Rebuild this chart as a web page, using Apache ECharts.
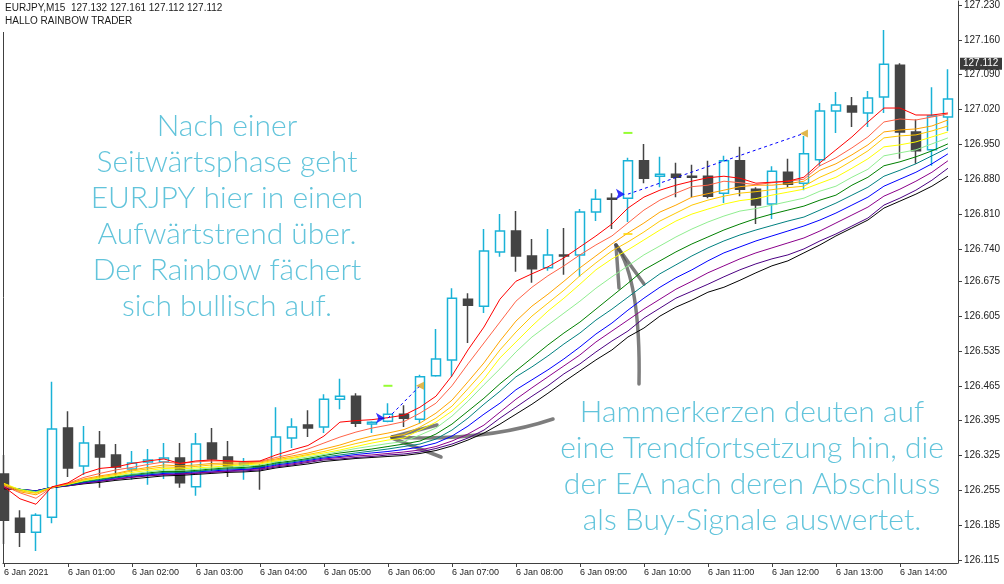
<!DOCTYPE html>
<html><head><meta charset="utf-8">
<script src="https://cdn.jsdelivr.net/npm/echarts@6/dist/echarts.min.js"></script>
<style>html,body{margin:0;padding:0;background:#fff}#c{width:1004px;height:584px}</style>
</head><body><div id="c"></div>
<script>
// ---- data ----
const tickIdx = [0,4,8,12,16,20,24,28,32,36,40,44,48,52,56];
const tickLabels = ["6 Jan 2021","6 Jan 01:00","6 Jan 02:00","6 Jan 03:00","6 Jan 04:00","6 Jan 05:00","6 Jan 06:00","6 Jan 07:00","6 Jan 08:00","6 Jan 09:00","6 Jan 10:00","6 Jan 11:00","6 Jan 12:00","6 Jan 13:00","6 Jan 14:00"];
const yTicks = [126.115,126.185,126.255,126.325,126.395,126.465,126.535,126.605,126.675,126.740,126.810,126.880,126.950,127.020,127.090,127.160,127.230];
// [open, close, low, high] per 15-minute bar
const candles = [
[126.288,126.195,126.147,126.326],[126.199,126.171,126.141,126.215],[126.171,126.205,126.133,126.209],[126.201,126.378,126.189,126.473],
[126.380,126.300,126.282,126.414],[126.304,126.350,126.286,126.384],[126.346,126.322,126.260,126.374],[126.326,126.302,126.280,126.348],
[126.298,126.310,126.276,126.334],[126.312,126.316,126.266,126.338],[126.312,126.320,126.278,126.350],[126.320,126.270,126.260,126.350],
[126.262,126.348,126.244,126.370],[126.350,126.318,126.294,126.380],[126.322,126.302,126.282,126.354],[126.306,126.310,126.276,126.320],
[126.304,126.300,126.256,126.308],[126.312,126.362,126.304,126.422],[126.360,126.382,126.340,126.400],[126.386,126.380,126.362,126.416],
[126.382,126.438,126.370,126.448],[126.438,126.444,126.418,126.479],[126.444,126.390,126.382,126.450],[126.388,126.392,126.370,126.394],
[126.394,126.408,126.392,126.430],[126.408,126.400,126.382,126.426],[126.398,126.483,126.390,126.487],[126.485,126.519,126.483,126.579],
[126.517,126.641,126.483,126.661],[126.639,126.627,126.551,126.651],[126.625,126.736,126.611,126.780],[126.734,126.776,126.724,126.810],
[126.776,126.726,126.694,126.816],[126.726,126.700,126.672,126.760],[126.702,126.728,126.696,126.780],[126.728,126.726,126.688,126.782],
[126.728,126.814,126.684,126.820],[126.814,126.840,126.796,126.860],[126.842,126.840,126.780,126.852],[126.842,126.917,126.794,126.923],
[126.917,126.882,126.872,126.951],[126.886,126.890,126.864,126.925],[126.890,126.884,126.844,126.913],[126.886,126.884,126.844,126.909],
[126.886,126.846,126.842,126.917],[126.852,126.917,126.832,126.927],[126.917,126.860,126.846,126.945],[126.860,126.828,126.790,126.864],
[126.830,126.896,126.800,126.906],[126.894,126.870,126.864,126.921],[126.872,126.931,126.858,126.967],[126.919,127.017,126.906,127.033],
[127.017,127.029,126.973,127.055],[127.027,127.015,126.985,127.045],[127.013,127.043,126.985,127.057],[127.045,127.111,127.013,127.180],
[127.109,126.975,126.921,127.113],[126.975,126.937,126.911,127.000],[126.939,127.007,126.907,127.065],[127.005,127.041,126.977,127.101]
];
const maRed = [126.262,126.238,126.227,126.262,126.270,126.289,126.299,126.302,126.309,126.314,126.318,126.309,126.314,126.316,126.314,126.313,126.314,126.326,126.336,126.345,126.364,126.392,126.395,126.397,126.401,126.406,126.422,126.444,126.485,126.537,126.583,126.639,126.675,126.690,126.704,126.722,126.744,126.766,126.790,126.822,126.844,126.858,126.868,126.876,126.883,126.886,126.882,126.872,126.874,126.876,126.884,126.913,126.939,126.965,126.995,127.023,127.023,127.009,127.009,127.013];
const maSalmon = [126.264,126.250,126.239,126.261,126.269,126.281,126.289,126.296,126.301,126.307,126.312,126.309,126.312,126.314,126.314,126.312,126.313,126.321,126.328,126.338,126.350,126.362,126.372,126.380,126.386,126.393,126.410,126.430,126.465,126.509,126.551,126.593,126.635,126.663,126.686,126.706,126.728,126.748,126.766,126.792,126.818,126.838,126.852,126.865,126.868,126.876,126.873,126.869,126.873,126.876,126.880,126.907,126.923,126.943,126.965,126.995,127.001,126.999,127.005,127.011];
const maOrange = [126.266,126.252,126.246,126.261,126.268,126.278,126.284,126.289,126.296,126.301,126.306,126.304,126.306,126.309,126.310,126.310,126.312,126.318,126.324,126.330,126.338,126.346,126.356,126.364,126.370,126.377,126.390,126.410,126.436,126.473,126.511,126.555,126.595,126.625,126.649,126.675,126.702,126.726,126.750,126.772,126.792,126.814,126.828,126.844,126.851,126.858,126.865,126.868,126.868,126.871,126.876,126.898,126.911,126.929,126.949,126.975,126.979,126.981,126.987,126.999];
const maGold = [126.268,126.254,126.249,126.261,126.268,126.276,126.282,126.287,126.294,126.298,126.302,126.301,126.303,126.306,126.307,126.308,126.310,126.316,126.321,126.327,126.333,126.341,126.349,126.356,126.362,126.367,126.382,126.400,126.424,126.459,126.495,126.537,126.573,126.605,126.631,126.657,126.686,126.712,126.736,126.754,126.774,126.796,126.812,126.828,126.838,126.846,126.852,126.855,126.859,126.863,126.866,126.884,126.898,126.917,126.937,126.963,126.967,126.969,126.977,126.987];
const maYellow = [126.269,126.256,126.250,126.261,126.267,126.275,126.280,126.285,126.291,126.295,126.299,126.298,126.300,126.302,126.304,126.306,126.308,126.314,126.319,126.325,126.330,126.336,126.343,126.350,126.356,126.360,126.376,126.392,126.414,126.444,126.479,126.521,126.553,126.585,126.615,126.641,126.669,126.698,126.720,126.738,126.758,126.778,126.796,126.810,126.820,126.830,126.837,126.841,126.848,126.854,126.860,126.872,126.884,126.902,126.921,126.945,126.949,126.955,126.965,126.975];
const maLightGreen = [126.266,126.257,126.252,126.261,126.267,126.274,126.279,126.284,126.288,126.292,126.296,126.295,126.297,126.300,126.302,126.303,126.306,126.312,126.317,126.322,126.327,126.333,126.339,126.344,126.349,126.353,126.366,126.380,126.404,126.434,126.467,126.499,126.533,126.563,126.587,126.611,126.635,126.661,126.684,126.706,126.728,126.746,126.764,126.780,126.794,126.806,126.816,126.821,126.828,126.835,126.842,126.856,126.866,126.884,126.900,126.927,126.933,126.939,126.951,126.963];
const maGreen = [126.264,126.257,126.252,126.261,126.266,126.273,126.278,126.282,126.287,126.290,126.293,126.293,126.295,126.298,126.300,126.301,126.304,126.310,126.314,126.319,126.325,126.330,126.334,126.338,126.343,126.348,126.354,126.368,126.388,126.414,126.440,126.469,126.495,126.521,126.547,126.571,126.593,126.619,126.645,126.671,126.698,126.716,126.734,126.750,126.764,126.778,126.790,126.801,126.810,126.818,126.826,126.838,126.848,126.868,126.884,126.907,126.915,126.925,126.937,126.951];
const maTeal = [126.263,126.257,126.253,126.261,126.266,126.272,126.276,126.281,126.285,126.288,126.291,126.291,126.293,126.296,126.298,126.299,126.302,126.308,126.312,126.317,126.322,126.326,126.330,126.334,126.338,126.343,126.348,126.358,126.376,126.400,126.428,126.454,126.483,126.503,126.525,126.549,126.571,126.597,126.619,126.643,126.667,126.690,126.708,126.726,126.742,126.756,126.768,126.778,126.787,126.796,126.804,126.818,126.832,126.848,126.864,126.886,126.898,126.911,126.927,126.943];
const maBlue = [126.262,126.257,126.254,126.261,126.265,126.271,126.275,126.280,126.284,126.286,126.289,126.290,126.292,126.294,126.296,126.297,126.300,126.306,126.310,126.315,126.320,126.323,126.327,126.330,126.333,126.337,126.342,126.350,126.364,126.384,126.408,126.430,126.457,126.477,126.497,126.519,126.543,126.569,126.591,126.617,126.641,126.663,126.682,126.698,126.716,126.732,126.744,126.756,126.766,126.776,126.786,126.798,126.812,126.828,126.844,126.866,126.880,126.894,126.911,126.931];
const maPurple = [126.261,126.257,126.254,126.261,126.265,126.270,126.274,126.278,126.282,126.285,126.287,126.288,126.290,126.292,126.294,126.296,126.298,126.304,126.308,126.313,126.318,126.321,126.324,126.326,126.329,126.332,126.336,126.343,126.354,126.368,126.386,126.412,126.438,126.461,126.483,126.505,126.527,126.553,126.575,126.597,126.619,126.639,126.659,126.675,126.692,126.706,126.720,126.732,126.742,126.752,126.762,126.776,126.792,126.808,126.824,126.846,126.860,126.876,126.894,126.917];
const maIndigo = [126.260,126.256,126.254,126.261,126.264,126.269,126.273,126.277,126.281,126.284,126.286,126.287,126.289,126.291,126.293,126.294,126.296,126.302,126.306,126.311,126.316,126.318,126.321,126.323,126.326,126.328,126.332,126.339,126.348,126.360,126.376,126.400,126.422,126.444,126.465,126.489,126.509,126.533,126.555,126.575,126.601,126.621,126.641,126.655,126.669,126.684,126.698,126.710,126.720,126.728,126.740,126.756,126.770,126.786,126.802,126.828,126.842,126.858,126.878,126.902];
const maBlack = [126.258,126.256,126.254,126.260,126.264,126.268,126.271,126.275,126.278,126.281,126.284,126.285,126.287,126.289,126.291,126.292,126.294,126.300,126.304,126.308,126.313,126.316,126.319,126.321,126.323,126.325,126.329,126.335,126.344,126.356,126.370,126.388,126.408,126.428,126.450,126.473,126.495,126.517,126.537,126.563,126.581,126.605,126.623,126.637,126.653,126.663,126.677,126.692,126.706,126.716,126.732,126.748,126.766,126.782,126.798,126.822,126.836,126.850,126.866,126.886];
// trade signals: bar index and price
const buyIdx = [24, 39];
const buyPrice = [126.400, 126.850];
const exitIdx = [26, 50];
const exitPrice = [126.465, 126.972];
const tpIdx = [24, 39];
const tpPrice = [126.465, 126.973];
const slIdx = [39];
const slPrice = [126.770];
const lastPrice = 127.112;

// ---- chart ----
const maList = [
  [maBlack,'#000000'],[maIndigo,'#4B0082'],[maPurple,'#8B008B'],[maBlue,'#0000FF'],[maTeal,'#008080'],
  [maGreen,'#008000'],[maLightGreen,'#90EE90'],[maYellow,'#FFFF00'],[maGold,'#FFC800'],[maOrange,'#FFA500'],
  [maSalmon,'#FF6347'],[maRed,'#FF0000']
];
const labelMap = {};
tickIdx.forEach((t,k)=>{ labelMap[t] = tickLabels[k]; });

const series = [];
series.push({
  type:'candlestick', z:1, barWidth:10,
  data: candles.map((c,i)=>[i, c[0], c[1], c[2], c[3]]),
  encode:{x:0, y:[1,2,3,4]},
  itemStyle:{color:'rgba(255,255,255,0)', color0:'#444444', borderColor:'#1AB2D7', borderColor0:'#444444', borderColorDoji:'#444444', borderWidth:1.5}
});
maList.forEach(([arr,col])=>{
  series.push({type:'line', z:2, data:arr.map((v,i)=>[i,v]), showSymbol:false, symbol:'none', lineStyle:{color:col, width:1}, silent:true});
});
for (let k=0;k<buyIdx.length;k++){
  series.push({type:'line', z:3, data:[[buyIdx[k],buyPrice[k]],[exitIdx[k],exitPrice[k]]], showSymbol:false, symbol:'none', lineStyle:{color:'#0000FF', width:1, type:[3,3]}, silent:true});
}
series.push({type:'scatter', z:4, symbol:'arrow', symbolSize:[8,9], symbolRotate:-90, symbolOffset:[-3,0], itemStyle:{color:'#0000FF'}, data:buyIdx.map((x,k)=>[x,buyPrice[k]])});
series.push({type:'scatter', z:4, symbol:'triangle', symbolSize:[8,8], symbolRotate:90, itemStyle:{color:'#DAA520'}, data:exitIdx.map((x,k)=>[x,exitPrice[k]])});
series.push({type:'scatter', z:4, symbol:'rect', symbolSize:[9,2], itemStyle:{color:'#7CFC00'}, data:tpIdx.map((x,k)=>[x,tpPrice[k]])});
series.push({type:'scatter', z:4, symbol:'rect', symbolSize:[9,2], itemStyle:{color:'#FFD700'}, data:slIdx.map((x,k)=>[x,slPrice[k]])});

const grey = 'rgba(75,75,75,0.72)';
const txtColor = '#62C4DB';
const stroke = {stroke:grey, lineWidth:3.5, fill:null, lineCap:'round'};
const baseGraphic = [
  {type:'line', shape:{x1:3.5, y1:32, x2:3.5, y2:563}, style:{stroke:'#404040', lineWidth:1}, silent:true},
  {type:'text', x:5, y:3, style:{text:'EURJPY,M15  127.132 127.161 127.112 127.112', fill:'#1a1a1a', font:'10px "Liberation Sans"'}},
  {type:'text', x:5, y:16, style:{text:'HALLO RAINBOW TRADER', fill:'#1a1a1a', font:'10px "Liberation Sans"'}},
  {type:'text', x:227, y:108, style:{text:'Nach einer\nSeitwärtsphase geht\nEURJPY hier in einen\nAufwärtstrend über.\nDer Rainbow fächert\nsich bullisch auf.', fill:txtColor, font:'300 30px Lato', align:'center', verticalAlign:'top', lineHeight:36}},
  {type:'text', x:752, y:394, style:{text:'Hammerkerzen deuten auf\neine Trendfortsetzung hin, die\nder EA nach deren Abschluss\nals Buy-Signale auswertet.', fill:txtColor, font:'300 30px Lato', align:'center', verticalAlign:'top', lineHeight:36}},
  {type:'bezierCurve', shape:{x1:553, y1:419, x2:392, y2:437, cpx1:485, cpy1:442}, style:stroke, silent:true},
  {type:'line', shape:{x1:392, y1:437, x2:437, y2:425}, style:stroke, silent:true},
  {type:'line', shape:{x1:392, y1:438, x2:441, y2:457}, style:stroke, silent:true},
  {type:'bezierCurve', shape:{x1:639, y1:384, x2:616, y2:245, cpx1:641, cpy1:280}, style:stroke, silent:true},
  {type:'line', shape:{x1:616, y1:245, x2:619, y2:288}, style:stroke, silent:true},
  {type:'line', shape:{x1:616, y1:245, x2:644, y2:284}, style:stroke, silent:true}
];
const option = {
  animation:false,
  backgroundColor:'#ffffff',
  grid:{left:3, right:46, top:1, bottom:21, show:false},
  xAxis:{
    type:'value', min:-0.06, max:59.63,
    axisLine:{show:true, onZero:false, lineStyle:{color:'#404040', width:1}},
    axisTick:{show:true, customValues:tickIdx, length:4, lineStyle:{color:'#404040'}},
    axisLabel:{customValues:tickIdx, formatter:(v)=>labelMap[Math.round(v)]||'', align:'left', margin:5, color:'#222', fontSize:9, fontFamily:'Liberation Sans'},
    splitLine:{show:false}
  },
  yAxis:{
    type:'value', position:'right', min:126.109, max:127.238,
    axisLine:{show:true, onZero:false, lineStyle:{color:'#404040', width:1}},
    axisTick:{show:true, customValues:yTicks, length:4, lineStyle:{color:'#404040'}},
    axisLabel:{customValues:yTicks, formatter:(v)=>v.toFixed(3), margin:6, color:'#222', fontSize:10, fontFamily:'Liberation Sans'},
    splitLine:{show:false}
  },
  series: series,
  graphic: baseGraphic
};
const chart = echarts.init(document.getElementById('c'), null, {renderer:'canvas'});
chart.setOption(option);
// current price tag on the price axis, positioned through the axis scale
const py = chart.convertToPixel({yAxisIndex:0}, lastPrice);
const gridRight = chart.convertToPixel({xAxisIndex:0}, 59.63);
chart.setOption({graphic: baseGraphic.concat([
  {type:'rect', shape:{x:gridRight+2, y:py-6, width:42, height:12}, style:{fill:'#3a3a3a'}, silent:true},
  {type:'text', x:gridRight+5, y:py, style:{text:lastPrice.toFixed(3), fill:'#ffffff', font:'10px "Liberation Sans"', verticalAlign:'middle'}, silent:true}
])});
</script>
</body></html>
